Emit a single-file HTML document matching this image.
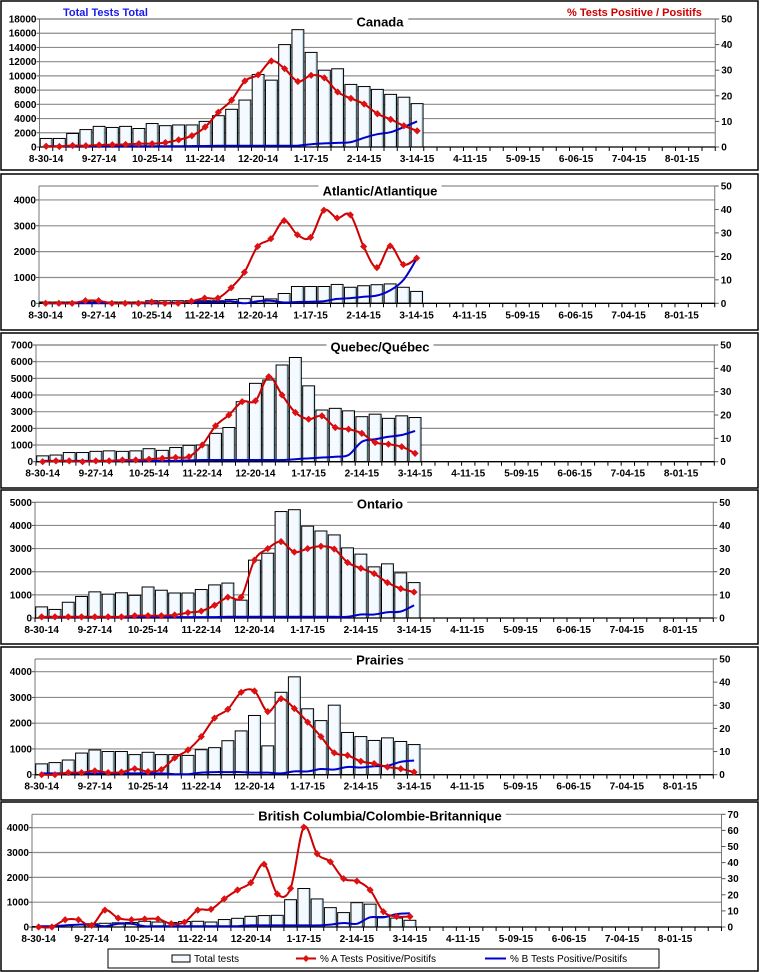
<!DOCTYPE html>
<html><head><meta charset="utf-8">
<style>
html,body{margin:0;padding:0;background:#fff;}
svg{display:block;font-family:"Liberation Sans",Arial,sans-serif;}
</style></head>
<body>
<svg id="s" width="760" height="972" viewBox="0 0 760 972" xmlns="http://www.w3.org/2000/svg">
<rect x="0" y="0" width="760" height="972" fill="#fff"/>
<text x="63" y="16" font-size="11" font-weight="bold" fill="#1a1aee">Total Tests Total</text>
<text x="567" y="16" font-size="11" font-weight="bold" fill="#cc0000">% Tests Positive / Positifs</text>
</svg>
<script>
var NS="http://www.w3.org/2000/svg",S=document.getElementById('s');
function el(t,a,txt){var e=document.createElementNS(NS,t);for(var k in a)e.setAttribute(k,a[k]);if(txt!=null)e.textContent=txt;S.appendChild(e);return e;}
var labs=["8-30-14","9-27-14","10-25-14","11-22-14","12-20-14","1-17-15","2-14-15","3-14-15","4-11-15","5-09-15","6-06-15","7-04-15","8-01-15"];
function smooth(p){if(p.length<2)return"";var d="M"+p[0][0]+","+p[0][1];for(var i=0;i<p.length-1;i++){var p0=p[i-1]||p[i],p1=p[i],p2=p[i+1],p3=p[i+2]||p2;var c1x=p1[0]+(p2[0]-p0[0])/6,c1y=p1[1]+(p2[1]-p0[1])/6,c2x=p2[0]-(p3[0]-p1[0])/6,c2y=p2[1]-(p3[1]-p1[1])/6;d+=" C"+c1x.toFixed(1)+","+c1y.toFixed(1)+" "+c2x.toFixed(1)+","+c2y.toFixed(1)+" "+p2[0].toFixed(1)+","+p2[1].toFixed(1);}return d;}
var P=[
{frame:[1,1,757,169],title:"Canada",ty:22,x0:39.5,w:13.25,n:51,y0:147,yt:19,lmax:18000,step:2000,lablim:18000,rmax:50,rstep:10,pct:true,
bars:[1200,1200,1900,2450,2900,2750,2900,2600,3300,3000,3100,3100,3600,4400,5300,6600,10200,9400,14400,16500,13300,10800,11000,8800,8500,8100,7400,7000,6100],
red:[0.3,0.2,0.6,0.5,0.8,0.9,1,1.3,1.3,1.7,2.8,4.4,7.8,13.6,18.3,25.8,28.2,33.6,30.6,25.6,28,27,21.5,19,16.8,13,10.8,8.3,6.3],
blue:[0.3,0.3,0.3,0.3,0.3,0.3,0.3,0.3,0.3,0.3,0.3,0.4,0.4,0.5,0.5,0.5,0.5,0.5,0.5,0.55,1.1,1.4,1.6,1.9,3.6,5,5.8,7.8,10]},
{frame:[1,174,757,156],title:"Atlantic/Atlantique",ty:191,x0:39,w:13.25,n:51,y0:303.3,yt:186,lmax:4540,step:1000,lablim:4000,rmax:50,rstep:10,pct:false,
bars:[50,50,50,50,50,50,50,50,100,100,100,100,100,100,150,180,270,170,380,650,650,650,730,620,680,720,750,620,460],
red:[0,0,0,100,100,0,0,0,50,0,0,80,200,200,600,1200,2200,2500,3200,2650,2550,3600,3300,3420,2200,1380,2220,1500,1750],
blue:[0,0,0,0,0,0,0,0,0,0,20,40,50,50,80,0,80,100,30,50,60,80,170,200,250,300,500,900,1720]},
{frame:[1,333,757,155],title:"Quebec/Québec",ty:347,x0:36,w:13.3,n:51,y0:461.7,yt:345,lmax:7000,step:1000,lablim:7000,rmax:50,rstep:10,pct:false,
bars:[350,400,550,550,620,650,620,650,780,680,850,980,1000,1700,2050,3600,4700,4900,5800,6250,4550,3100,3200,3050,2700,2850,2600,2750,2650],
red:[0,50,50,0,50,50,100,100,150,200,250,300,1000,2150,2800,3600,3650,5100,4000,2950,2550,2750,2050,1950,1700,1150,1050,900,500],
blue:[50,50,50,50,50,50,50,50,50,50,50,80,100,100,100,100,100,100,100,150,200,250,300,400,1200,1350,1500,1600,1850]},
{frame:[1,490,757,154],title:"Ontario",ty:504,x0:35,w:13.3,n:51,y0:618,yt:502.3,lmax:5000,step:1000,lablim:5000,rmax:50,rstep:10,pct:false,
bars:[480,370,680,930,1130,1030,1090,980,1340,1200,1080,1080,1230,1430,1510,770,2500,2800,4600,4680,3970,3760,3590,3030,2760,2210,2340,1950,1530],
red:[50,50,50,50,50,50,50,100,100,100,130,230,300,550,900,900,2500,3000,3300,2850,3000,3100,2980,2400,2150,1920,1530,1270,1120],
blue:[30,30,30,30,30,30,30,40,40,40,40,40,40,40,50,50,50,50,50,50,50,50,50,50,150,150,250,280,550]},
{frame:[1,647,757,153],title:"Prairies",ty:660,x0:35,w:13.3,n:51,y0:774.7,yt:659,lmax:4493,step:1000,lablim:4000,rmax:50,rstep:10,pct:false,
bars:[420,470,570,840,960,900,900,780,870,780,780,750,970,1050,1320,1700,2300,1120,3200,3800,2560,2100,2700,1640,1480,1330,1430,1290,1170],
red:[0,0,80,80,150,80,100,230,120,200,650,960,1480,2200,2540,3200,3250,2450,2950,2570,2040,1480,850,750,520,430,300,230,100],
blue:[50,50,50,50,50,50,50,50,50,50,20,20,80,100,100,100,80,80,50,130,130,220,200,300,280,330,350,500,550]},
{frame:[1,802,757,169],title:"British Columbia/Colombie-Britannique",ty:816,x0:32,w:13.26,n:52,y0:927,yt:814.3,lmax:4540,step:1000,lablim:4000,rmax:70,rstep:10,pct:true,
bars:[20,30,60,100,130,150,170,180,230,200,180,220,230,200,300,350,430,460,470,1100,1550,1130,780,580,980,920,420,360,270],
red:[0,0,4.5,4.5,1,10.5,5.5,4.5,5,5,2,3,10.5,11,17.5,23,27.5,39,20.5,24,62,45.5,40.5,30,28.5,23,9.5,6.5,6.5],
blue:[0.5,0.5,1,1.5,1.5,0.5,2,2,0.5,0.5,0.5,0.5,0.5,0.5,0.5,0.5,1,1,1,1,1,1,1.5,2.5,2,6,6,8,8.5]}
];
P.forEach(function(p){
  var f=p.frame;el('rect',{x:f[0],y:f[1],width:f[2],height:f[3],fill:'none',stroke:'#000','stroke-width':1.5});
  var xr=p.x0+p.n*p.w,k=(p.y0-p.yt)/p.lmax;
  function Y(v){return p.y0-v*k;}
  function YR(v){return p.y0-v/p.rmax*(p.y0-p.yt);}
  for(var v=p.step;v<=p.lablim+1;v+=p.step){var y=Y(v);el('line',{x1:p.x0,x2:xr,y1:y,y2:y,stroke:'#8c8c8c','stroke-width':1.2});}
  el('line',{x1:p.x0,x2:xr,y1:p.yt,y2:p.yt,stroke:'#8c8c8c','stroke-width':1.2});
  el('line',{x1:p.x0,x2:p.x0,y1:p.yt,y2:p.y0,stroke:'#777','stroke-width':1});
  el('line',{x1:xr,x2:xr,y1:p.yt,y2:p.y0,stroke:'#777','stroke-width':1});
  for(var v=0;v<=p.lablim+1;v+=p.step){var y=Y(v);el('line',{x1:p.x0-3,x2:p.x0,y1:y,y2:y,stroke:'#555'});el('text',{x:p.x0-3,y:y+3.5,'font-size':10,'font-weight':'bold','text-anchor':'end'},String(v));}
  for(var v=0;v<=p.rmax;v+=p.rstep){var y=YR(v);el('line',{x1:xr,x2:xr+4,y1:y,y2:y,stroke:'#555'});el('text',{x:xr+6,y:y+3.5,'font-size':10,'font-weight':'bold'},String(v));}
  p.bars.forEach(function(b,i){var x=p.x0+i*p.w+0.7;el('rect',{x:x,y:Y(b),width:p.w-1.4,height:b*k,fill:'#f4faff',stroke:'#000','stroke-width':1});
    el('line',{x1:x+p.w-2.6,x2:x+p.w-2.6,y1:Y(b)+1,y2:p.y0,stroke:'#b8dce8','stroke-width':1});});
  el('line',{x1:p.x0,x2:xr,y1:p.y0,y2:p.y0,stroke:'#000','stroke-width':1.3});
  for(var i=0;i<=p.n;i++){var x=p.x0+i*p.w;el('line',{x1:x,x2:x,y1:p.y0,y2:p.y0+4,stroke:'#000'});}
  labs.forEach(function(l,j){var x=p.x0+(j*4+0.5)*p.w;el('text',{x:x,y:p.y0+15,'font-size':10,'font-weight':'bold','text-anchor':'middle'},l);});
  var conv=p.pct?YR:Y;
  var bp=p.blue.map(function(v,i){return[p.x0+(i+0.5)*p.w,conv(v)];});
  el('path',{d:smooth(bp),fill:'none',stroke:'#0000cc','stroke-width':2});
  var rp=p.red.map(function(v,i){return[p.x0+(i+0.5)*p.w,conv(v)];});
  el('path',{d:smooth(rp),fill:'none',stroke:'#cc0000','stroke-width':2});
  rp.forEach(function(q){var x=q[0],y=q[1],r=3.6;el('polygon',{points:(x)+','+(y-r)+' '+(x+r)+','+y+' '+x+','+(y+r)+' '+(x-r)+','+y,fill:'#dd1111'});});
  var t=el('text',{x:380,y:p.ty+4.5,'font-size':13,'font-weight':'bold','text-anchor':'middle'},p.title);
  var bb=t.getBBox();var r=el('rect',{x:bb.x-4,y:bb.y,width:bb.width+8,height:bb.height,fill:'#fff'});S.insertBefore(r,t);
});
el('rect',{x:108,y:949,width:551,height:19,fill:'#fff',stroke:'#000','stroke-width':1});
el('rect',{x:172,y:955,width:18,height:7,fill:'#f4faff',stroke:'#000'});
el('text',{x:194,y:962,'font-size':10},'Total tests');
el('line',{x1:296,x2:316,y1:958.5,y2:958.5,stroke:'#cc0000','stroke-width':2});
el('polygon',{points:'306,955 309.5,958.5 306,962 302.5,958.5',fill:'#dd1111'});
el('text',{x:320,y:962,'font-size':10},'% A Tests Positive/Positifs');
el('line',{x1:485,x2:506,y1:958.5,y2:958.5,stroke:'#0000cc','stroke-width':2});
el('text',{x:510,y:962,'font-size':10},'% B Tests Positive/Positifs');
</script>
</body></html>
